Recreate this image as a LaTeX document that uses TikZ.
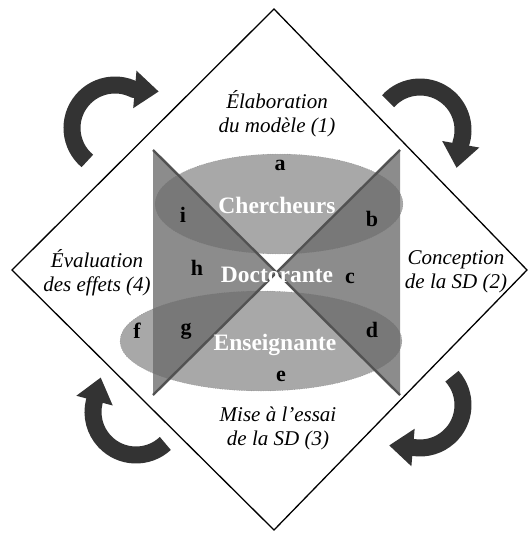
\documentclass[tikz,border=0pt]{standalone}
\usepackage{fontspec}
\setmainfont{Liberation Serif}
\usetikzlibrary{arrows.meta}

\begin{document}
\begin{tikzpicture}[x=1pt,y=-1pt,
	stage/.style={font=\fontsize{21}{24}\selectfont\itshape, align=center},
	role/.style={font=\fontsize{23.5}{26}\selectfont\bfseries, text=white},
	zone/.style={font=\fontsize{22}{24}\selectfont\bfseries},
	wing/.style={fill=black!45},
	disc/.style={fill=black!58, fill opacity=0.59, draw=black!55, dotted, thin},
	cross/.style={draw=black!68, line width=2.4pt},
	cycle arrow/.style={draw=black!80, line width=17pt, -{Triangle[length=24pt,width=36pt]}}]
	\useasboundingbox (0,0) rectangle (530,535);

	% Frame (diamond)
	\coordinate (top) at (274,9);
	\coordinate (right) at (527,270);
	\coordinate (bottom) at (274,530);
	\coordinate (left) at (12,270);
	\draw[line width=1.3pt] (top) -- (right) -- (bottom) -- (left) -- cycle;

	% Hourglass triangles
	\coordinate (tl) at (153,150);
	\coordinate (tr) at (400,150);
	\coordinate (bl) at (153,395);
	\coordinate (br) at (400,395);
	\coordinate (mid) at (276.5,272.5);
	\fill[wing] (tl) -- (mid) -- (bl) -- cycle;
	\fill[wing] (tr) -- (mid) -- (br) -- cycle;

	% Discs
	\draw[disc] (279,204) ellipse [x radius=124, y radius=50];
	\draw[disc] (261,341) ellipse [x radius=141, y radius=50];

	% Cross
	\draw[cross] (tl) -- (br);
	\draw[cross] (tr) -- (bl);

	% Roles
	\node[role] (cher) at (277,205) {Chercheurs};
	\node[role] (doct) at (277,275) {Doctorante};
	\node[role] (ens) at (275,345) {Enseignante};

	% Zones
	\node[zone] (za) at (280,165) {a};
	\node[zone] (zb) at (372,219) {b};
	\node[zone] (zc) at (350,278) {c};
	\node[zone] (zd) at (372,330) {d};
	\node[zone] (ze) at (281,376) {e};
	\node[zone] (zf) at (137,331) {f};
	\node[zone] (zg) at (186,331) {g};
	\node[zone] (zh) at (197,268) {h};
	\node[zone] (zi) at (183,215) {i};

	% Stages
	\node[stage] (s1) at (277,114) {Élaboration\\du modèle (1)};
	\node[stage] (s2) at (456,272) {Conception\\de la SD (2)};
	\node[stage] (s3) at (278,428) {Mise à l’essai\\de la SD (3)};
	\node[stage] (s4) at (97,273) {Évaluation\\des effets (4)};

	% Cycle arrows
	\draw[cycle arrow] (115,128) ++(130:43) arc[start angle=130, end angle=296, radius=43] -- ++(5:25);
	\draw[cycle arrow] (420,130) ++(222:43) arc[start angle=222, end angle=378, radius=43] -- ++(100:25);
	\draw[cycle arrow] (420,405) ++(318:43) arc[start angle=318, end angle=458, radius=43] -- ++(185:25);
	\draw[cycle arrow] (136,412) ++(47:43) arc[start angle=47, end angle=194, radius=43] -- ++(285:25);
\end{tikzpicture}
\end{document}
